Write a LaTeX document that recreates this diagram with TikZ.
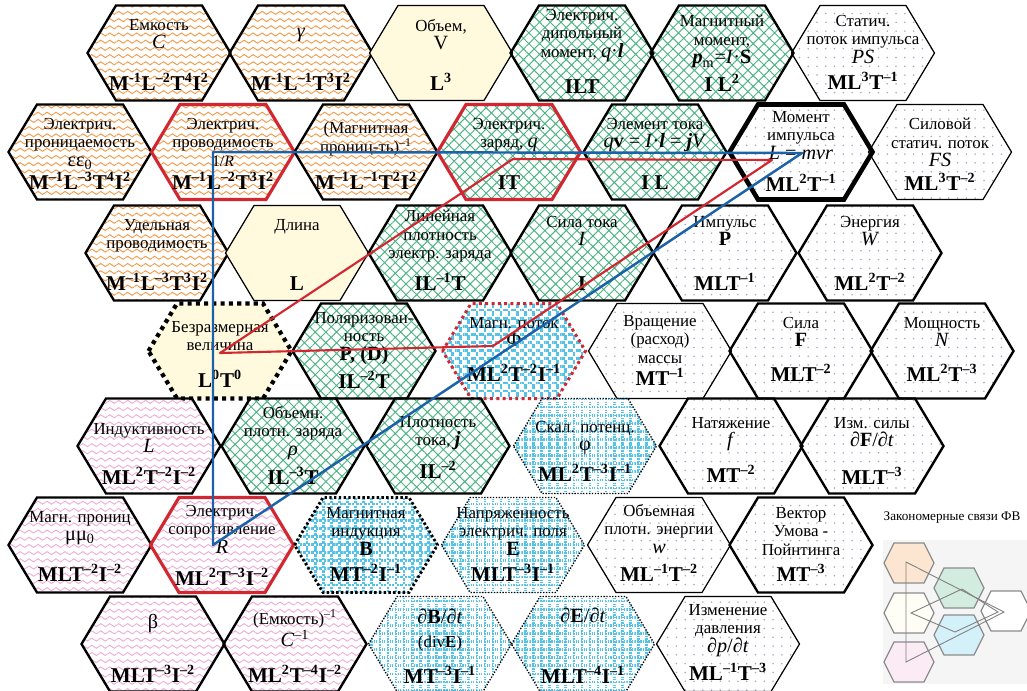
\documentclass[tikz,border=0pt]{standalone}
\usepackage{fontspec}
\setmainfont{Liberation Serif}
\usetikzlibrary{patterns.meta}
\definecolor{corange}{HTML}{F39C4B}
\definecolor{cpink}{HTML}{EDAFD8}
\definecolor{cgreen}{HTML}{4DB482}
\definecolor{cblue}{HTML}{55C3E8}
\definecolor{cdot}{HTML}{A8A8BE}
\definecolor{cyellow}{HTML}{FFF9DD}
\definecolor{cred}{HTML}{D22630}
\definecolor{cnavy}{HTML}{1B62A8}
\tikzdeclarepattern{
  name=waves, type=uncolored,
  bottom left={(0pt,-2.05pt)}, top right={(5.1pt,2.05pt)},
  tile size={(5.1pt,4.1pt)},
  code={
    \pgfsetlinewidth{0.55pt}
    \pgfpathmoveto{\pgfqpoint{0pt}{0pt}}
    \pgfpathcurveto{\pgfqpoint{0.85pt}{1.13pt}}{\pgfqpoint{1.7pt}{1.13pt}}{\pgfqpoint{2.55pt}{0pt}}
    \pgfpathcurveto{\pgfqpoint{3.4pt}{-1.13pt}}{\pgfqpoint{4.25pt}{-1.13pt}}{\pgfqpoint{5.1pt}{0pt}}
    \pgfusepath{stroke}
  }
}
\tikzset{
  every picture/.style={line width=1.3pt},
  hexline/.style={draw=black, line width=1.35pt},
  hexname/.style={anchor=north, align=center, inner sep=0pt, font=\fontsize{9.6}{10.6}\selectfont},
  hexdim/.style={anchor=base, inner sep=0pt, font=\bfseries\fontsize{12}{14}\selectfont},
  orangewave/.style={pattern=waves, pattern color=corange},
  pinkwave/.style={pattern=waves, pattern color=cpink},
  yellowfill/.style={fill=cyellow},
  greenhatch/.style={pattern={Hatch[angle=45, distance=4.3pt, line width=0.55pt]}, pattern color=cgreen},
  bluegrid/.style={pattern={Hatch[angle=0, distance=4.6pt, line width=1.5pt]}, pattern color=cblue},
  greydots/.style={pattern={Dots[distance=5pt, radius=0.5pt]}, pattern color=cdot},
  thinline/.style={line width=0.7pt},
  heavyline/.style={line width=2.6pt},
  redline/.style={draw=cred, line width=1.8pt},
  dotline/.style={line width=0.75pt, dash pattern=on 0.75pt off 0.9pt},
  middots/.style={line width=1.6pt, dash pattern=on 1.4pt off 1.3pt},
  bigdots/.style={line width=2.4pt, dash pattern=on 2.3pt off 2.4pt},
  reddots/.style={draw=cred, line width=1.7pt, dash pattern=on 1.7pt off 1.9pt},
  bluelink/.style={draw=cnavy, line width=1.4pt, line join=round},
  redlink/.style={draw=cred, line width=1.2pt, line join=round},
}
\newcommand{\pw}[1]{\textsuperscript{#1}}
\newcommand{\sy}[1]{{\fontsize{11.5}{12}\selectfont#1}}
% [name offset][dimension offset]{name}{centre}{look}{text}{dimension}
\NewDocumentCommand{\hexcell}{O{-35} O{37} m m m m m}{%
  \begin{scope}[shift={(#4)}]
    \path[hexline, #5] (-71.5,0) -- (-43,-47.5) -- (43,-47.5) -- (71.5,0) -- (43,47.5) -- (-43,47.5) -- cycle;
    \node[hexname] (#3) at (0,#1) {#6};
    \node[hexdim] (#3-d) at (0,#2) {#7};
  \end{scope}}

\begin{document}
\begin{tikzpicture}[x=0.02cm, y=-0.02cm]
  \useasboundingbox (0,0) rectangle (1027,690);
  % row 1
  \hexcell{cap}{159,53}{orangewave}{Емкость\\\sy{\textit{C}}}{M\pw{-1}L\pw{–2}T\pw{4}I\pw{2}}
  \hexcell{gam}{301,53}{orangewave}{\mbox{}\\\sy{\textit{γ}}}{M\pw{-1}L\pw{–1}T\pw{3}I\pw{2}}
  \hexcell{vol}{441,53}{yellowfill, thinline}{Объем,\\\sy{V}}{L\pw{3}}
  \hexcell[-45][40]{dip}{582,53}{greenhatch}{Электрич.\\дипольный\\момент, \sy{\textit{q}·\textbf{\textit{l}}}}{ILT}
  \hexcell[-39][38]{mag}{722,53}{greenhatch}{Магнитный\\момент,\\\sy{\textbf{\textit{p}}\textsubscript{m}=\textit{I}·\textbf{S}}}{I L\pw{2}}
  \hexcell[-39][36]{sfl}{863,53}{greydots, thinline}{Статич.\\поток импульса\\\sy{\textit{PS}}}{ML\pw{3}T\pw{–1}}
  % row 2
  \hexcell{perm}{80,152}{orangewave}{Электрич.\\проницаемость\\\sy{εε\textsubscript{0}}}{M\pw{–1}L\pw{–3}T\pw{4}I\pw{2}}
  \hexcell{cond}{223,152}{orangewave, redline}{Электрич.\\проводимость\\{\small 1/\textit{R}}}{M\pw{–1}L\pw{–2}T\pw{3}I\pw{2}}
  \hexcell[-31]{imu}{366,152}{orangewave}{(Магнитная\\прониц-ть)\pw{–1}}{M\pw{–1}L\pw{–1}T\pw{2}I\pw{2}}
  \hexcell{chg}{509,152}{greenhatch, redline}{Электрич.\\заряд, \sy{\textit{q}}}{IT}
  \hexcell{elc}{655,152}{greenhatch}{Элемент тока\\\sy{\textit{q}\textbf{v} = \textit{I}·\textbf{\textit{l}} = \textbf{\textit{j}}\textit{V}}}{I L}
  \hexcell[-42][39]{ang}{801,152}{greydots, heavyline}{Момент\\импульса\\\sy{\textit{L} = \textit{mvr}}}{ML\pw{2}T\pw{–1}}
  \hexcell[-35][38]{fst}{940,152}{greydots, thinline}{Силовой\\статич. поток\\\sy{\textit{FS}}}{ML\pw{3}T\pw{–2}}
  % row 3
  \hexcell{sig}{157,253}{orangewave}{Удельная\\проводимость}{M\pw{–1}L\pw{–3}T\pw{3}I\pw{2}}
  \hexcell{len}{297,253}{yellowfill, thinline}{Длина}{L}
  \hexcell[-44]{lin}{440,253}{greenhatch}{Линейная\\плотность\\электр. заряда}{IL\pw{–1}T}
  \hexcell[-38]{cur}{582,253}{greenhatch}{Сила тока\\\sy{\textit{I}}}{I}
  \hexcell[-38]{mom}{725,253}{greydots}{Импульс\\\sy{\textbf{P}}}{MLT\pw{–1}}
  \hexcell[-38]{ene}{870,253}{greydots}{Энергия\\\sy{\textit{W}}}{ML\pw{2}T\pw{–2}}
  % row 4
  \hexcell[-31][36]{nul}{220,351}{yellowfill, bigdots}{Безразмерная\\величина}{L\pw{0}T\pw{0}}
  \hexcell[-40][37]{pol}{364,351}{greenhatch}{Поляризован-\\ность\\\sy{\textbf{P, (D)}}}{IL\pw{–2}T}
  \hexcell[-35][30]{flx}{514,351}{bluegrid, reddots}{Магн. поток\\\sy{Φ}}{ML\pw{2}T\pw{–2}I\pw{–1}}
  \hexcell[-37][34]{rot}{660,351}{greydots, thinline}{Вращение\\(расход)\\массы}{MT\pw{–1}}
  \hexcell[-35][30]{frc}{801,351}{greydots}{Сила\\\sy{\textbf{F}}}{MLT\pw{–2}}
  \hexcell[-35][30]{pow}{942,351}{greydots}{Мощность\\\sy{\textit{N}}}{ML\pw{2}T\pw{–3}}
  % row 5
  \hexcell[-24][38]{ind}{149,446}{pinkwave}{Индуктивность\\\sy{\textit{L}}}{ML\pw{2}T\pw{–2}I\pw{–2}}
  \hexcell[-41][38]{rho}{293,446}{greenhatch}{Объемн.\\плотн. заряда\\\sy{\textit{ρ}}}{IL\pw{–3}T}
  \hexcell[-31][32]{jd}{438,446}{greenhatch}{Плотность\\тока, \sy{\textbf{\textit{j}}}}{IL\pw{–2}}
  \hexcell[-26][35]{phi}{585,446}{bluegrid, dotline}{Скал. потенц.\\\sy{φ}}{ML\pw{2}T\pw{–3}I\pw{–1}}
  \hexcell[-30][36]{ten}{731,446}{greydots}{Натяжение\\\sy{\textit{f}}}{MT\pw{–2}}
  \hexcell[-30][38]{dfd}{872,446}{greydots}{Изм. силы\\\sy{∂\textbf{F}/∂\textit{t}}}{MLT\pw{–3}}
  % row 6
  \hexcell[-35][36]{mup}{80,545}{pinkwave}{Магн. прониц\\\sy{μμ\textsubscript{0}}}{MLT\pw{–2}I\pw{–2}}
  \hexcell[-41][40]{res}{222,545}{pinkwave, redline}{Электрич.\\сопротивление\\\sy{\textit{R}}}{ML\pw{2}T\pw{–3}I\pw{–2}}
  \hexcell[-39][36]{bfd}{366,545}{bluegrid, middots}{Магнитная\\индукция\\\sy{\textbf{B}}}{MT\pw{–2}I\pw{–1}}
  \hexcell[-39][36]{efd}{513,545}{bluegrid, dotline}{Напряженность\\электрич. поля\\\sy{\textbf{E}}}{MLT\pw{–3}I\pw{–1}}
  \hexcell[-42][36]{wen}{659,545}{greydots, thinline}{Объемная\\плотн. энергии\\\sy{\textit{w}}}{ML\pw{–1}T\pw{–2}}
  \hexcell[-39][36]{umv}{801,545}{greydots}{Вектор\\Умова -\\Пойнтинга}{MT\pw{–3}}
  % row 7
  \hexcell[-35][38]{bet}{153,644}{pinkwave}{\mbox{}\\\sy{β}}{MLT\pw{–3}I\pw{–2}}
  \hexcell[-35][38]{cin}{295,644}{pinkwave}{(Емкость)\pw{–1}\\\sy{\textit{C}\pw{–1}}}{ML\pw{2}T\pw{–4}I\pw{–2}}
  \hexcell[-36][39]{dbt}{440,644}{bluegrid, dotline}{\sy{∂\textbf{B}/∂\textit{t}}\\[3pt](div\textbf{E})}{MT\pw{–3}I\pw{–1}}
  \hexcell[-37][39]{ded}{583,644}{bluegrid, dotline}{\sy{∂\textbf{E}/∂\textit{t}}}{MLT\pw{–4}I\pw{–1}}
  \hexcell[-41][36]{dpt}{728,644}{greydots, thinline}{Изменение\\давления\\\sy{∂\textit{p}/∂\textit{t}}}{ML\pw{–1}T\pw{–3}}
  % links
  \coordinate (condpt) at (213,152);
  \coordinate (angpt) at (802,153);
  \coordinate (respt) at (213,545);
  \coordinate (nulpt) at (220,353);
  \coordinate (chgpt) at (513,159);
  \coordinate (angred) at (772,160);
  \coordinate (flxpt) at (493,346);
  \draw[bluelink] (condpt) -- (angpt) -- (respt) -- cycle;
  \draw[redlink] (nulpt) -- (chgpt) -- (angred) -- (flxpt) -- cycle;
  % thumbnail
  \node[font=\fontsize{7.5}{9}\selectfont] (ttl) at (952,518) {Закономерные связи ФВ};
  \fill[black!4] (883,540) rectangle (1027,684);
  \foreach \x/\y/\c in {909/563/corange, 959/588/cgreen, 909/613/cyellow, 959/635/cblue, 1006/611/white, 909/662/cpink}
    \path[draw=black!45, line width=0.7pt, fill=\c!25, shift={(\x,\y)}] (-25,0) -- (-15,-20) -- (15,-20) -- (25,0) -- (15,20) -- (-15,20) -- cycle;
  \draw[black!50, line width=0.5pt] (906,562) -- (1004,612) -- (906,662) -- cycle;
  \draw[black!50, line width=0.5pt] (911,613) -- (962,589) -- (998,612) -- (955,632) -- cycle;
\end{tikzpicture}
\end{document}
